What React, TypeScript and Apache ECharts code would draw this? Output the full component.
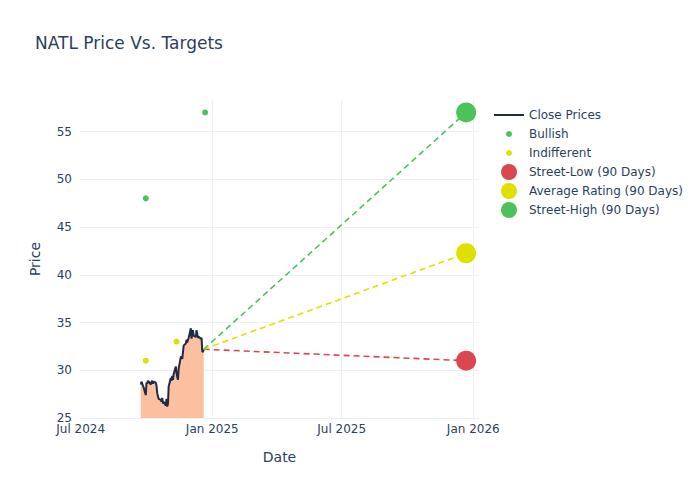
import React, { useEffect, useRef } from "react";
import * as echarts from "echarts";

const closeDates = [
  "2024-09-23", "2024-09-24", "2024-09-25", "2024-09-26", "2024-09-27", "2024-09-30",
  "2024-10-01", "2024-10-02", "2024-10-03", "2024-10-04", "2024-10-07", "2024-10-08",
  "2024-10-09", "2024-10-10", "2024-10-11", "2024-10-14", "2024-10-15", "2024-10-16",
  "2024-10-17", "2024-10-18", "2024-10-21", "2024-10-22", "2024-10-23", "2024-10-24",
  "2024-10-25", "2024-10-28", "2024-10-29", "2024-10-30", "2024-10-31",
  "2024-11-01", "2024-11-04", "2024-11-05", "2024-11-06", "2024-11-07", "2024-11-08",
  "2024-11-11", "2024-11-12", "2024-11-13", "2024-11-14", "2024-11-15", "2024-11-18",
  "2024-11-19", "2024-11-20", "2024-11-21", "2024-11-22", "2024-11-25", "2024-11-26",
  "2024-11-27", "2024-11-29",
  "2024-12-02", "2024-12-03", "2024-12-04", "2024-12-05", "2024-12-06", "2024-12-09",
  "2024-12-10", "2024-12-11", "2024-12-12", "2024-12-13", "2024-12-16", "2024-12-17",
  "2024-12-18", "2024-12-19", "2024-12-20",
];
const closePrices = [
  28.5, 28.8, 28.6, 28.4, 28.2, 27.4,
  28.7, 28.6, 28.9, 28.8, 28.5, 28.8,
  28.9, 28.6, 28.8, 28.7, 28.4, 27.6,
  27.3, 27.0, 26.9, 26.7, 27.1, 26.5,
  26.7, 26.3, 27.0, 26.2, 26.5,
  28.3, 29.2, 28.9, 29.4, 29.0, 29.6,
  30.4, 29.7, 29.3, 29.0, 30.2, 31.4,
  31.4, 31.2, 31.9, 32.6, 32.8, 33.2,
  32.9, 33.4,
  34.4, 33.3, 33.9, 34.2, 33.6, 33.5,
  34.2, 33.8, 33.4, 33.5, 33.3, 33.4,
  32.0, 31.9, 32.2,
];

const bullishDates = ["2024-09-30", "2024-12-22"];
const bullishValues = [48, 57];
const indifferentDates = ["2024-09-30", "2024-11-12"];
const indifferentValues = [31, 33];

const targetStartDate = "2024-12-20";
const targetEndDate = "2025-12-22";
const streetLow = 31;
const averageRating = 42.25;
const streetHigh = 57;

const xTickDates = ["2024-07-01", "2025-01-01", "2025-07-01", "2026-01-01"];
const xTickLabels = ["Jul 2024", "Jan 2025", "Jul 2025", "Jan 2026"];

const TEXT = "#2a3f5f";
const FONT = "'DejaVu Sans', Verdana, sans-serif";
const GREEN = "#4cc25a";
const YELLOW = "#e0e000";
const RED = "#d9484f";

function ts(s: string) {
  const [y, m, d] = s.split("-").map(Number);
  return Date.UTC(y, m - 1, d);
}

export default function App() {
  const ref = useRef<HTMLDivElement>(null);
  useEffect(() => {
    if (!ref.current) return;
    const chart = echarts.init(ref.current, undefined, { renderer: "svg" });
    const lastClose = closePrices[closePrices.length - 1];
    const tickTs = xTickDates.map(ts);
    const targetLine = (name: string, value: number, color: string) => ({
      name: name + " line",
      type: "line",
      data: [
        [ts(targetStartDate), lastClose],
        [ts(targetEndDate), value],
      ],
      symbol: "none",
      lineStyle: { color, width: 1.6, type: [6, 4] },
      z: 3,
    });
    const bigMarker = (name: string, value: number, color: string) => ({
      name,
      type: "scatter",
      data: [[ts(targetEndDate), value]],
      symbolSize: 20,
      itemStyle: { color, opacity: 1 },
      z: 5,
    });
    const legendItems = [
      { label: "Close Prices", kind: "line", color: "#1f2a44" },
      { label: "Bullish", kind: "small", color: GREEN },
      { label: "Indifferent", kind: "small", color: YELLOW },
      { label: "Street-Low (90 Days)", kind: "big", color: RED },
      { label: "Average Rating (90 Days)", kind: "big", color: YELLOW },
      { label: "Street-High (90 Days)", kind: "big", color: GREEN },
    ];
    const legendGraphics: any[] = [];
    legendItems.forEach((it, i) => {
      const y = 115 + i * 19;
      if (it.kind === "line") {
        legendGraphics.push({
          type: "line",
          shape: { x1: 494, y1: y, x2: 524, y2: y },
          style: { stroke: it.color, lineWidth: 2 },
        });
      } else {
        legendGraphics.push({
          type: "circle",
          shape: { cx: 509, cy: y, r: it.kind === "small" ? 3 : 8 },
          style: { fill: it.color },
        });
      }
      legendGraphics.push({
        type: "text",
        x: 529,
        y,
        style: {
          text: it.label,
          fill: TEXT,
          font: `12px ${FONT}`,
          textVerticalAlign: "middle",
        },
      });
    });

    chart.setOption({
      animation: false,
      backgroundColor: "#ffffff",
      title: {
        text: "NATL Price Vs. Targets",
        left: 30,
        top: 29,
        textStyle: { color: TEXT, fontSize: 17, fontWeight: "normal", fontFamily: FONT },
      },
      grid: { left: 80, right: 221, top: 100, bottom: 82, containLabel: false },
      xAxis: {
        type: "value",
        min: ts("2024-06-30"),
        max: ts("2026-01-09"),
        name: "Date",
        nameLocation: "middle",
        nameGap: 32,
        nameTextStyle: { color: TEXT, fontSize: 14, fontFamily: FONT },
        axisLine: { show: false },
        axisTick: { show: false, customValues: tickTs },
        axisLabel: {
          customValues: tickTs,
          color: TEXT,
          fontSize: 12,
          fontFamily: FONT,
          margin: 5,
          formatter: (v: number) => {
            const idx = tickTs.findIndex((t) => Math.abs(t - v) < 86400000);
            return idx >= 0 ? xTickLabels[idx] : "";
          },
        },
        splitLine: { show: true, showMinLine: false, lineStyle: { color: "#ebf0f8", width: 1 } },
      },
      yAxis: {
        type: "value",
        min: 25,
        max: 58.3,
        interval: 5,
        name: "Price",
        nameLocation: "middle",
        nameGap: 38,
        nameTextStyle: { color: TEXT, fontSize: 14, fontFamily: FONT },
        axisLine: { show: false },
        axisTick: { show: false },
        axisLabel: { color: TEXT, fontSize: 12, fontFamily: FONT, margin: 8, showMaxLabel: false },
        splitLine: { show: true, showMaxLine: false, lineStyle: { color: "#ebf0f8", width: 1 } },
      },
      graphic: legendGraphics,
      series: [
        {
          name: "Close Prices",
          type: "line",
          data: closeDates.map((d, i) => [ts(d), closePrices[i]]),
          symbol: "none",
          lineStyle: { color: "#1f2a44", width: 2 },
          areaStyle: { color: "#fcbf9f", opacity: 1, origin: "start" },
          z: 2,
        },
        targetLine("Street-Low", streetLow, RED),
        targetLine("Average Rating", averageRating, YELLOW),
        targetLine("Street-High", streetHigh, GREEN),
        {
          name: "Bullish",
          type: "scatter",
          data: bullishDates.map((d, i) => [ts(d), bullishValues[i]]),
          symbolSize: 6,
          itemStyle: { color: GREEN, opacity: 1 },
          z: 4,
        },
        {
          name: "Indifferent",
          type: "scatter",
          data: indifferentDates.map((d, i) => [ts(d), indifferentValues[i]]),
          symbolSize: 6,
          itemStyle: { color: YELLOW, opacity: 1 },
          z: 4,
        },
        bigMarker("Street-Low (90 Days)", streetLow, RED),
        bigMarker("Average Rating (90 Days)", averageRating, YELLOW),
        bigMarker("Street-High (90 Days)", streetHigh, GREEN),
      ],
    });
    return () => chart.dispose();
  }, []);
  return (
    <div
      ref={ref}
      style={{ position: "fixed", left: 0, top: 0, width: 700, height: 500 }}
    />
  );
}
